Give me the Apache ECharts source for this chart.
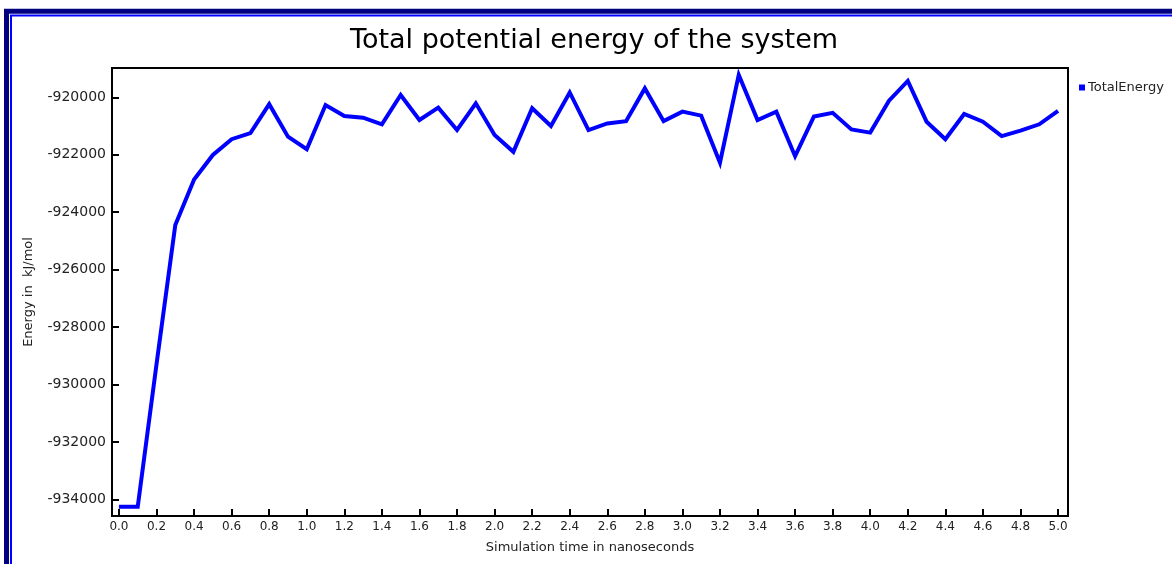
<!DOCTYPE html>
<html>
<head>
<meta charset="utf-8">
<title>Total potential energy of the system</title>
<script src="https://cdn.jsdelivr.net/npm/echarts@6/dist/echarts.min.js"></script>
<style>
  html, body { margin: 0; padding: 0; background: #ffffff; }
  #chart { width: 1172px; height: 564px; }
</style>
</head>
<body>
<div id="chart"></div>
<script>
// Simulation time (ns) for each sample
const timeNs = [
  0.0, 0.1, 0.2, 0.3, 0.4, 0.5, 0.6, 0.7, 0.8, 0.9,
  1.0, 1.1, 1.2, 1.3, 1.4, 1.5, 1.6, 1.7, 1.8, 1.9,
  2.0, 2.1, 2.2, 2.3, 2.4, 2.5, 2.6, 2.7, 2.8, 2.9,
  3.0, 3.1, 3.2, 3.3, 3.4, 3.5, 3.6, 3.7, 3.8, 3.9,
  4.0, 4.1, 4.2, 4.3, 4.4, 4.5, 4.6, 4.7, 4.8, 4.9,
  5.0
];

// Total potential energy (kJ/mol)
const totalEnergy = [
  -934260, -934260, -929300, -924450, -922860, -922010, -921460, -921250, -920240, -921370,
  -921810, -920270, -920650, -920710, -920940, -919920, -920790, -920360, -921140, -920210,
  -921310, -921900, -920380, -921000, -919830, -921140, -920910, -920830, -919690, -920830,
  -920500, -920640, -922280, -919220, -920790, -920500, -922050, -920670, -920540, -921120,
  -921230, -920120, -919430, -920850, -921460, -920580, -920850, -921350, -921160, -920940,
  -920470
];

// Tick spacing of the two axes
const energyTickStep = 2000;
const timeTickStep = 0.2;

const seriesName = 'TotalEnergy';
const titleText = 'Total potential energy of the system';
const xAxisName = 'Simulation time in nanoseconds';
const yAxisName = 'Energy in  kJ/mol';

const FONT = '"DejaVu Sans", Verdana, sans-serif';

const points = timeNs.map((t, i) => [t, totalEnergy[i]]);

function onStep(v, step) {
  const k = v / step;
  return Math.abs(k - Math.round(k)) < 1e-6;
}

const chart = echarts.init(document.getElementById('chart'), null, { renderer: 'canvas' });

chart.setOption({
  backgroundColor: '#ffffff',
  animation: false,
  title: {
    text: titleText,
    left: 345,
    top: 22,
    textStyle: { fontFamily: FONT, fontSize: 27, fontWeight: 'normal', color: '#000000' }
  },
  legend: {
    data: [{ name: seriesName, icon: 'rect' }],
    left: 1074,
    top: 76,
    itemWidth: 6,
    itemHeight: 6,
    textStyle: { fontFamily: FONT, fontSize: 13, color: '#222222', padding: [0, 0, 0, -2] }
  },
  grid: {
    left: 112,
    right: 104,
    top: 68,
    bottom: 48,
    show: true,
    borderColor: '#000000',
    borderWidth: 2,
    backgroundColor: '#ffffff'
  },
  xAxis: {
    type: 'value',
    min: -0.037,
    max: 5.053,
    splitNumber: 25,
    name: xAxisName,
    nameLocation: 'middle',
    nameGap: 25,
    nameTextStyle: { fontFamily: FONT, fontSize: 13, color: '#222222' },
    axisLine: { show: true, onZero: false, lineStyle: { color: '#000000', width: 2 } },
    axisTick: { show: true, inside: true, length: 7, lineStyle: { color: '#000000', width: 2 } },
    axisLabel: {
      margin: 5,
      fontFamily: FONT,
      fontSize: 12,
      color: '#222222',
      formatter: v => onStep(v, timeTickStep) && v >= 0 ? v.toFixed(1) : ''
    },
    splitLine: { show: false }
  },
  yAxis: {
    type: 'value',
    min: -934582,
    max: -918980,
    splitNumber: 8,
    name: yAxisName,
    nameLocation: 'middle',
    nameGap: 77,
    nameTextStyle: { fontFamily: FONT, fontSize: 13, color: '#222222' },
    axisLine: { show: true, onZero: false, lineStyle: { color: '#000000', width: 2 } },
    axisTick: { show: true, inside: true, length: 7, lineStyle: { color: '#000000', width: 2 } },
    axisLabel: {
      margin: 6,
      fontFamily: FONT,
      fontSize: 14,
      color: '#222222',
      formatter: v => onStep(v, energyTickStep) ? String(v) : ''
    },
    splitLine: { show: false }
  },
  graphic: [
    {
      type: 'rect',
      silent: true,
      z: 100,
      shape: { x: 6.5, y: 11.25, width: 1400, height: 1000 },
      style: { fill: 'none', stroke: '#000080', lineWidth: 5 }
    },
    {
      type: 'rect',
      silent: true,
      z: 100,
      shape: { x: 11, y: 15.5, width: 1400, height: 1000 },
      style: { fill: 'none', stroke: '#0000ff', lineWidth: 2 }
    }
  ],
  series: [
    {
      name: seriesName,
      type: 'line',
      data: points,
      showSymbol: false,
      symbol: 'none',
      color: '#0000ff',
      lineStyle: { color: '#0000ff', width: 4, join: 'miter' },
      emphasis: { disabled: true }
    }
  ]
});
</script>
</body>
</html>
